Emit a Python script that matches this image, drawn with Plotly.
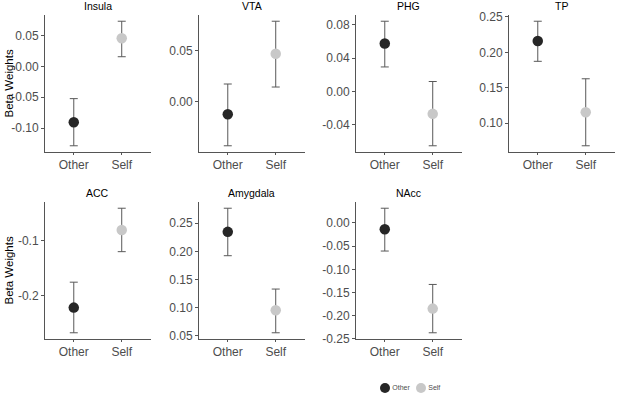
import plotly.graph_objects as go

regions = ["Insula", "VTA", "PHG", "TP", "ACC", "Amygdala", "NAcc"]
conditions = ["Other", "Self"]

# beta weights (mean) and error bar bounds per region: [Other, Self]
means = {
    "Insula":   [-0.0907, 0.0456],
    "VTA":      [-0.0129, 0.0473],
    "PHG":      [0.0577, -0.0269],
    "TP":       [0.2160, 0.1156],
    "ACC":      [-0.2212, -0.0800],
    "Amygdala": [0.2347, 0.0952],
    "NAcc":     [-0.0136, -0.1848],
}
upper = {
    "Insula":   [-0.0523, 0.0733],
    "VTA":      [0.0172, 0.0795],
    "PHG":      [0.0845, 0.0120],
    "TP":       [0.2438, 0.1627],
    "ACC":      [-0.1750, -0.0405],
    "Amygdala": [0.2767, 0.1330],
    "NAcc":     [0.0318, -0.1327],
}
lower = {
    "Insula":   [-0.1288, 0.0157],
    "VTA":      [-0.0441, 0.0142],
    "PHG":      [0.0295, -0.0653],
    "TP":       [0.1873, 0.0683],
    "ACC":      [-0.2670, -0.1195],
    "Amygdala": [0.1923, 0.0553],
    "NAcc":     [-0.0606, -0.2370],
}
tick_vals = {
    "Insula":   [-0.10, -0.05, 0.00, 0.05],
    "VTA":      [0.00, 0.05],
    "PHG":      [-0.04, 0.00, 0.04, 0.08],
    "TP":       [0.10, 0.15, 0.20, 0.25],
    "ACC":      [-0.2, -0.1],
    "Amygdala": [0.05, 0.10, 0.15, 0.20, 0.25],
    "NAcc":     [-0.25, -0.20, -0.15, -0.10, -0.05, 0.00],
}
tick_text = {
    "Insula":   ["-0.10", "-0.05", "0.00", "0.05"],
    "VTA":      ["0.00", "0.05"],
    "PHG":      ["-0.04", "0.00", "0.04", "0.08"],
    "TP":       ["0.10", "0.15", "0.20", "0.25"],
    "ACC":      ["-0.2", "-0.1"],
    "Amygdala": ["0.05", "0.10", "0.15", "0.20", "0.25"],
    "NAcc":     ["-0.25", "-0.20", "-0.15", "-0.10", "-0.05", "0.00"],
}
colors = {"Other": "#262626", "Self": "#c8c8c8"}

W, H = 617, 394
col_left = [45, 199, 356, 509]
panel_w = 105.5
row_top = [15, 202]
panel_h = 137

FONT = "Liberation Sans, Arial, sans-serif"
fig = go.Figure()
layout = dict(
    width=W, height=H,
    margin=dict(l=0, r=0, t=0, b=0, pad=0, autoexpand=False),
    plot_bgcolor="white", paper_bgcolor="white",
    font=dict(family=FONT),
    showlegend=False,
)
annotations = []

for i, reg in enumerate(regions):
    r, c = divmod(i, 4)
    n = i + 1
    xa = "x" if n == 1 else f"x{n}"
    ya = "y" if n == 1 else f"y{n}"
    for j, cond in enumerate(conditions):
        m = means[reg][j]
        fig.add_trace(go.Scatter(
            x=[cond], y=[m], xaxis=xa, yaxis=ya, mode="markers",
            marker=dict(size=10.5, color=colors[cond]),
            error_y=dict(type="data", symmetric=False,
                         array=[upper[reg][j] - m], arrayminus=[m - lower[reg][j]],
                         color="#595959", thickness=1, width=4),
            name=cond,
        ))
    lo = min(lower[reg]); hi = max(upper[reg])
    pad = 0.05 * (hi - lo)
    x0 = col_left[c] / W
    x1 = (col_left[c] + panel_w) / W
    y1 = 1 - row_top[r] / H
    y0 = 1 - (row_top[r] + panel_h) / H
    axcommon = dict(showline=True, linecolor="#555555", linewidth=1,
                    tickcolor="#555555", showgrid=False, zeroline=False,
                    automargin=False,
                    tickfont=dict(size=12, color="#4d4d4d", family=FONT))
    layout["xaxis" if n == 1 else f"xaxis{n}"] = dict(
        domain=[x0, x1], anchor=ya, type="category",
        categoryorder="array", categoryarray=conditions,
        range=[-0.6, 1.6], ticks="outside", ticklen=2, **axcommon)
    layout["yaxis" if n == 1 else f"yaxis{n}"] = dict(
        domain=[y0, y1], anchor=xa, range=[lo - pad, hi + pad],
        tickmode="array", tickvals=tick_vals[reg], ticktext=tick_text[reg],
        ticks="outside", ticklen=3, **axcommon)
    annotations.append(dict(
        text=reg, xref="paper", yref="paper", x=(x0 + x1) / 2, y=y1,
        xanchor="center", yanchor="bottom", yshift=1, showarrow=False,
        font=dict(size=10.5, color="black", family=FONT)))
    if c == 0:
        annotations.append(dict(
            text="Beta Weights", xref="paper", yref="paper", x=8 / W,
            y=(y0 + y1) / 2, xanchor="center", yanchor="middle",
            textangle=-90, showarrow=False,
            font=dict(size=11.5, color="black", family=FONT)))

# legend drawn on a small hidden categorical axis
fig.add_trace(go.Scatter(
    x=conditions, y=[0, 0], xaxis="x8", yaxis="y8", mode="markers+text",
    marker=dict(size=10, color=[colors[c] for c in conditions]),
    text=conditions, textposition="middle right",
    textfont=dict(size=7, color="#4d4d4d", family=FONT),
    cliponaxis=False, hoverinfo="skip",
))
layout["xaxis8"] = dict(domain=[367 / W, 439 / W], anchor="y8", type="category",
                        categoryorder="array", categoryarray=conditions,
                        range=[-0.5, 1.5], visible=False)
layout["yaxis8"] = dict(domain=[(H - 393) / H, (H - 383) / H], anchor="x8",
                        range=[-1, 1], visible=False)

layout["annotations"] = annotations
fig.update_layout(**layout)
fig.write_html("out.html", config={"displayModeBar": False},
               post_script="document.body.style.margin='0px';document.body.style.overflow='hidden';")
